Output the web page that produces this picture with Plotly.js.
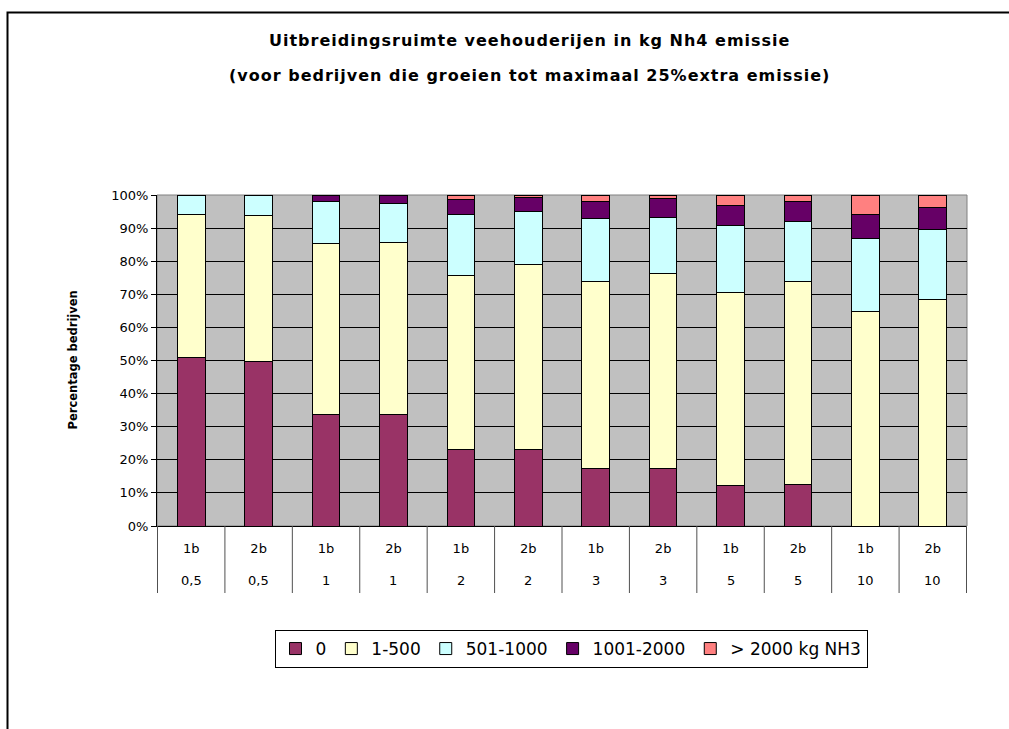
<!DOCTYPE html>
<html>
<head>
<meta charset="utf-8">
<script src="https://cdn.plot.ly/plotly-3.0.1.min.js"></script>
<style>
html,body{margin:0;padding:0;background:#fff;}
#chart{width:1009px;height:729px;}
.gtitle, .gtitle-subtitle{letter-spacing:1px;}
</style>
</head>
<body>
<div id="chart"></div>
<script>
// Categories: inner label (scenario) and outer label (distance)
const scenario = ["1b","2b","1b","2b","1b","2b","1b","2b","1b","2b","1b","2b"];
const distance = ["0,5","0,5","1","1","2","2","3","3","5","5","10","10"];
const categories = scenario.map((s,i)=>s+" "+distance[i]);

// Series (percentage of farms)
const seriesNames = ["0","1-500","501-1000","1001-2000","> 2000 kg NH3"];
const s0        = [50.8, 49.8, 33.6, 33.6, 23.0, 23.0, 17.4, 17.4, 12.1, 12.4, 0.0, 0.0];
const s1_500    = [43.4, 43.9, 51.7, 52.2, 52.7, 55.9, 56.5, 59.0, 58.5, 61.5, 64.7, 68.5];
const s501_1000 = [5.8, 6.3, 12.7, 11.6, 18.4, 16.1, 18.9, 16.8, 20.1, 18.0, 22.3, 21.0];
const s1001_2000= [0.0, 0.0, 2.0, 2.6, 4.4, 4.2, 5.2, 5.6, 6.1, 6.1, 7.2, 6.7];
const s2000plus = [0.0, 0.0, 0.0, 0.0, 1.5, 0.8, 2.0, 1.2, 3.2, 2.0, 5.8, 3.8];
const seriesValues = [s0, s1_500, s501_1000, s1001_2000, s2000plus];
const colors = ["#993366","#FFFFCC","#CCFFFF","#660066","#FF8080"];

const yTicks = [0,10,20,30,40,50,60,70,80,90,100];

const traces = seriesNames.map((name,k)=>({
  type:"bar",
  name:name,
  x:categories,
  y:seriesValues[k],
  marker:{color:colors[k], line:{color:"#000", width:1}},
  hoverinfo:"x+y+name"
}));

// plot-area geometry
const L=157, R=42, T=195, B=203, W=1009, H=729;
const pw = W-L-R, ph = H-T-B;
const px = v => (v-L)/pw;
const py = v => (H-B-v)/ph;

const shapes = [];
// plot area border (gray)
shapes.push({type:"rect", xref:"paper", yref:"paper", x0:0, x1:1, y0:0, y1:1,
  line:{color:"#808080", width:1}, layer:"below"});
// category dividers below axis
for(let i=0;i<=categories.length;i++){
  shapes.push({type:"line", xref:"x", yref:"paper", x0:i-0.5, x1:i-0.5, y0:0, y1:py(593),
    line:{color:"#505050", width:1}});
}
// outer chart frame
shapes.push({type:"rect", xref:"paper", yref:"paper", x0:px(7.5), x1:px(1030), y0:py(760), y1:py(12.5),
  line:{color:"#000", width:2}, fillcolor:"rgba(0,0,0,0)"});

const annotations = categories.map((c,i)=>({
  xref:"x", yref:"paper", x:c, y:py(580), text:distance[i], showarrow:false,
  font:{family:"DejaVu Sans", size:13, color:"#000"}, xanchor:"center", yanchor:"middle"
}));
annotations.push({
  xref:"paper", yref:"paper", x:px(72), y:0.5, text:"<b>Percentage bedrijven</b>", textangle:-90,
  showarrow:false, font:{family:"DejaVu Sans", size:11.5, color:"#000"}, xanchor:"center", yanchor:"middle"
});

const layout = {
  width:W, height:H,
  margin:{l:L, r:R, t:T, b:B, pad:0},
  paper_bgcolor:"#fff",
  plot_bgcolor:"#C0C0C0",
  barmode:"stack",
  bargap:0.59,
  showlegend:true,
  title:{
    text:"<b>Uitbreidingsruimte veehouderijen in kg Nh4 emissie</b>",
    font:{family:"DejaVu Sans", size:16, color:"#000"},
    x:0.525, xanchor:"center", y:1-40/H, yanchor:"middle",
    subtitle:{text:"<b>(voor bedrijven die groeien tot maximaal 25%extra emissie)</b>",
      font:{family:"DejaVu Sans", size:16, color:"#000"}}
  },
  xaxis:{
    type:"category",
    tickmode:"array", tickvals:categories, ticktext:scenario,
    ticks:"outside", ticklen:10, tickcolor:"rgba(0,0,0,0)",
    tickfont:{family:"DejaVu Sans", size:13, color:"#000"},
    showline:true, linecolor:"#000", linewidth:1,
    showgrid:false, zeroline:false, fixedrange:true
  },
  yaxis:{
    range:[0,100],
    tickmode:"array", tickvals:yTicks, ticktext:yTicks.map(v=>v+"%"),
    ticks:"outside", ticklen:5, tickcolor:"#000",
    tickfont:{family:"DejaVu Sans", size:13, color:"#000"},
    showline:true, linecolor:"#000", linewidth:1,
    showgrid:true, gridcolor:"#000", gridwidth:1,
    zeroline:false, fixedrange:true
  },
  legend:{
    orientation:"h", x:px(571), y:py(649), xanchor:"center", yanchor:"middle",
    bordercolor:"#000", borderwidth:1, bgcolor:"#fff",
    font:{family:"DejaVu Sans", size:17, color:"#000"},
    traceorder:"normal", itemwidth:30
  },
  shapes:shapes,
  annotations:annotations
};

Plotly.newPlot("chart", traces, layout, {displayModeBar:false, staticPlot:true});
</script>
</body>
</html>
